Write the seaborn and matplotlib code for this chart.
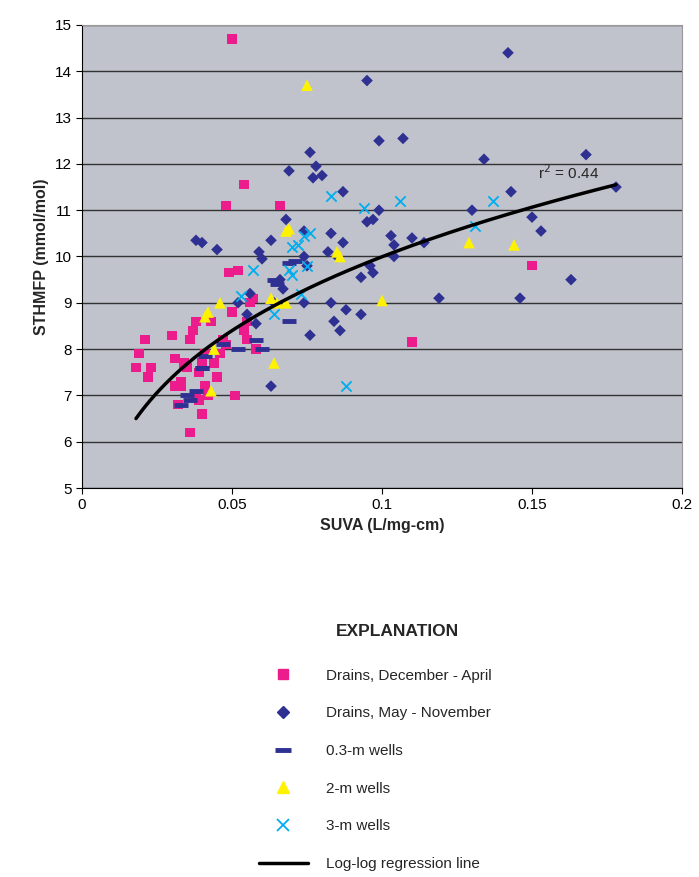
import numpy as np
import pandas as pd
import matplotlib
matplotlib.use("Agg")
import matplotlib.pyplot as plt
import seaborn as sns
from matplotlib.lines import Line2D

sns.set_style("white")
plt.rcParams['font.family'] = ['Liberation Sans', 'DejaVu Sans']

dec_x = [0.05,0.054,0.048,0.066,0.052,0.049,0.018,0.019,0.021,0.022,0.023,0.030,0.031,0.031,0.032,0.033,0.033,0.034,0.035,0.036,0.036,0.037,0.038,0.038,0.039,0.039,0.040,0.040,0.041,0.041,0.042,0.043,0.044,0.045,0.046,0.047,0.048,0.050,0.051,0.054,0.055,0.055,0.056,0.057,0.058,0.150,0.110]
dec_y = [14.7,11.55,11.1,11.1,9.7,9.65,7.6,7.9,8.2,7.4,7.6,8.3,7.8,7.2,6.8,7.3,7.2,7.7,7.6,6.2,8.2,8.4,8.6,7.0,6.9,7.5,6.6,7.7,7.9,7.2,7.0,8.6,7.7,7.4,7.9,8.2,8.1,8.8,7.0,8.4,8.6,8.2,9.0,9.1,8.0,9.8,8.15]

may_x = [0.142,0.095,0.168,0.107,0.099,0.076,0.134,0.078,0.069,0.077,0.080,0.087,0.143,0.178,0.130,0.099,0.150,0.040,0.045,0.068,0.074,0.083,0.097,0.095,0.103,0.110,0.114,0.153,0.063,0.059,0.060,0.074,0.082,0.087,0.085,0.104,0.104,0.097,0.096,0.093,0.163,0.119,0.146,0.075,0.066,0.067,0.074,0.083,0.088,0.093,0.084,0.086,0.076,0.063,0.058,0.064,0.056,0.052,0.055,0.038]
may_y = [14.4,13.8,12.2,12.55,12.5,12.25,12.1,11.95,11.85,11.7,11.75,11.4,11.4,11.5,11.0,11.0,10.85,10.3,10.15,10.8,10.55,10.5,10.8,10.75,10.45,10.4,10.3,10.55,10.35,10.1,9.95,10.0,10.1,10.3,10.0,10.0,10.25,9.65,9.8,9.55,9.5,9.1,9.1,9.8,9.5,9.3,9.0,9.0,8.85,8.75,8.6,8.4,8.3,7.2,8.55,9.0,9.2,9.0,8.75,10.35]

w03_x = [0.035,0.036,0.033,0.038,0.040,0.041,0.047,0.052,0.060,0.058,0.065,0.069,0.069,0.064,0.071,0.040]
w03_y = [7.0,6.9,6.8,7.1,7.6,7.85,8.1,8.0,8.0,8.2,9.4,9.85,8.6,9.5,9.9,7.6]

w2_x = [0.075,0.041,0.042,0.046,0.044,0.043,0.064,0.068,0.069,0.063,0.065,0.086,0.100,0.129,0.144,0.085,0.068]
w2_y = [13.7,8.7,8.8,9.0,8.0,7.1,7.7,9.0,10.6,9.1,9.0,10.0,9.05,10.3,10.25,10.1,10.55]

w3_x = [0.053,0.057,0.064,0.070,0.069,0.070,0.073,0.076,0.083,0.094,0.106,0.131,0.137,0.088,0.074,0.072,0.075]
w3_y = [9.15,9.7,8.75,10.2,9.7,9.6,9.2,10.5,11.3,11.05,11.2,10.65,11.2,7.2,10.45,10.25,9.8]

reg_x_range = [0.018, 0.178]
reg_y_ends = [6.5, 11.55]

fig = plt.figure(figsize=(6.99, 8.77), dpi=100)
W, H = 699, 877
ax = fig.add_axes([82/W, 1-488/H, 600/W, 463/H])
ax.set_facecolor('#C0C3CB')

sns.scatterplot(x=dec_x, y=dec_y, ax=ax, marker='s', color='#EC1C8C', s=45, edgecolor='none', zorder=3)
sns.scatterplot(x=may_x, y=may_y, ax=ax, marker='D', color='#2E3192', s=35, edgecolor='none', zorder=3)
sns.scatterplot(x=w03_x, y=w03_y, ax=ax, marker='_', color='#2E3192', s=90, linewidth=3.5, zorder=3)
sns.scatterplot(x=w2_x, y=w2_y, ax=ax, marker='^', color='#FFF200', s=70, edgecolor='none', zorder=3)
sns.scatterplot(x=w3_x, y=w3_y, ax=ax, marker='x', color='#00AEEF', s=55, linewidth=1.3, zorder=3)

b = np.log(reg_y_ends[1]/reg_y_ends[0]) / np.log(reg_x_range[1]/reg_x_range[0])
a = reg_y_ends[0] / reg_x_range[0]**b
xx = np.linspace(reg_x_range[0], reg_x_range[1], 200)
sns.lineplot(x=xx, y=a*xx**b, ax=ax, color='black', linewidth=2.5, zorder=4)
ax.text(0.152, 11.6, r'r$^2$ = 0.44', fontsize=11, va='bottom')

ax.set_xlim(0, 0.2)
ax.set_ylim(5, 15)
ax.set_xticks([0, 0.05, 0.1, 0.15, 0.2])
ax.set_xticklabels(['0', '0.05', '0.1', '0.15', '0.2'])
ax.set_yticks(range(5, 16))
ax.yaxis.grid(True, color='#333333', linewidth=1)
ax.set_axisbelow(True)
for s in ['top', 'right']:
    ax.spines[s].set_color('#999999')
for s in ['left', 'bottom']:
    ax.spines[s].set_color('black')
ax.tick_params(labelsize=11, length=4, direction='out', left=True, bottom=True, colors='black')
ax.set_xlabel('SUVA (L/mg-cm)', fontsize=11.5, fontweight='bold')
ax.set_ylabel('STHMFP (mmol/mol)', fontsize=11.5, fontweight='bold')

fig.text(397/W, 1-632/H, 'EXPLANATION', ha='center', va='center', fontsize=12.5, fontweight='bold')
handles = [
    Line2D([], [], marker='s', color='#EC1C8C', ls='none', markersize=7),
    Line2D([], [], marker='D', color='#2E3192', ls='none', markersize=6),
    Line2D([], [], marker='_', color='#2E3192', ls='none', markersize=11, markeredgewidth=3.5),
    Line2D([], [], marker='^', color='#FFF200', ls='none', markersize=9),
    Line2D([], [], marker='x', color='#00AEEF', ls='none', markersize=8, markeredgewidth=1.3),
    Line2D([], [], color='black', lw=2.5),
]
labels = ['Drains, December - April', 'Drains, May - November', '0.3-m wells', '2-m wells', '3-m wells', 'Log-log regression line']
fig.legend(handles, labels, loc='upper left', bbox_to_anchor=(245/W, 1-655/H), frameon=False,
           fontsize=11, labelspacing=1.55, handlelength=3.2, handletextpad=1.2)

fig.savefig('out.png', dpi=100)
